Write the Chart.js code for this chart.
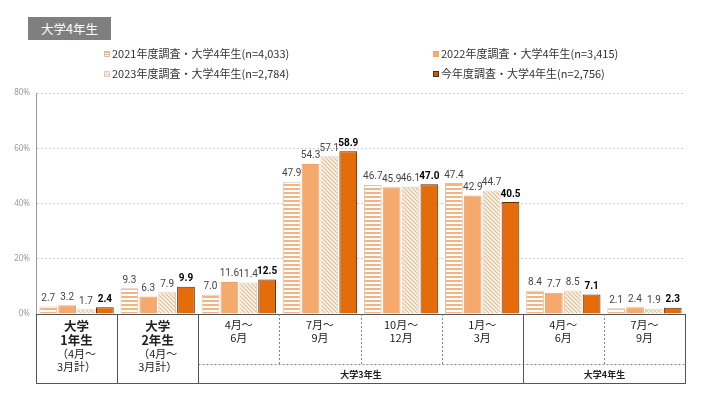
<!DOCTYPE html>
<html><head><meta charset="utf-8">
<script src="https://cdn.jsdelivr.net/npm/chart.js@4"></script>
<style>
html,body{margin:0;padding:0;background:#fff;}
#wrap{position:relative;width:704px;height:396px;overflow:hidden;font-family:"Noto Sans CJK JP","Noto Sans",sans-serif;}
#c{position:absolute;left:0;top:0;}
#title{position:absolute;left:28px;top:17px;width:83px;height:23px;background:#7f7f7f;color:#fff;font-size:12.5px;line-height:23px;text-align:center;}
.lg{position:absolute;font-size:11px;color:#333;line-height:14px;white-space:nowrap;}
.mk{display:inline-block;width:6px;height:6px;margin-right:2px;vertical-align:1px;box-sizing:border-box;}
</style></head>
<body><div id="wrap"><canvas id="c" width="704" height="396"></canvas>
<div id="title">大学4年生</div>
<div id="legend"></div>
</div>
<script>
// ---- data ----
const categories = ['大学1年生','大学2年生','大学3年生 4月～6月','大学3年生 7月～9月','大学3年生 10月～12月','大学3年生 1月～3月','大学4年生 4月～6月','大学4年生 7月～9月'];
const categoryLines = [['大学','1年生','（4月～','3月計）'],['大学','2年生','（4月～','3月計）'],['4月～','6月'],['7月～','9月'],['10月～','12月'],['1月～','3月'],['4月～','6月'],['7月～','9月']];
const groupLabels = ['大学3年生','大学4年生'];
const groupRanges = [[2,5],[6,7]];
const seriesNames = ['2021年度調査・大学4年生(n=4,033)','2022年度調査・大学4年生(n=3,415)','2023年度調査・大学4年生(n=2,784)','今年度調査・大学4年生(n=2,756)'];
const values2021 = [2.7, 9.3, 7.0, 47.9, 46.7, 47.4, 8.4, 2.1];
const values2022 = [3.2, 6.3, 11.6, 54.3, 45.9, 42.9, 7.7, 2.4];
const values2023 = [1.7, 7.9, 11.4, 57.1, 46.1, 44.7, 8.5, 1.9];
const valuesNow  = [2.4, 9.9, 12.5, 58.9, 47.0, 40.5, 7.1, 2.3];
const yTicks = [0, 20, 40, 60, 80];

// ---- patterns ----
function stripePattern(){
  const c=document.createElement('canvas');c.width=4;c.height=4;const x=c.getContext('2d');
  x.fillStyle='#fff';x.fillRect(0,0,4,4);x.fillStyle='#f5b382';x.fillRect(0,0,4,2);
  return x.createPattern(c,'repeat');
}
function hatchPattern(){
  const c=document.createElement('canvas');c.width=4;c.height=4;const x=c.getContext('2d');
  x.fillStyle='#fff';x.fillRect(0,0,4,4);x.strokeStyle='#f5bb8e';x.lineWidth=1.4;
  x.beginPath();x.moveTo(-1,-1);x.lineTo(5,5);x.moveTo(-1,3);x.lineTo(1,5);x.moveTo(3,-1);x.lineTo(5,1);x.stroke();
  return x.createPattern(c,'repeat');
}
const ctx=document.getElementById('c').getContext('2d');
const fills=[stripePattern(),'#f5a96c',hatchPattern(),'#e46c0a'];
const borders=['#d9bfa8','#eda36a','#dccbbd','#5a2c08'];
const allValues=[values2021,values2022,values2023,valuesNow];

// ---- legend (HTML) ----
const legendPos=[[104,46],[433,46],[104,66],[433,66]];
const mkCss=[
 'background:repeating-linear-gradient(0deg,#fff 0 1px,#f3b88c 1px 2px);border:1px solid #d9bfa8;',
 'background:#f5a96c;',
 'background:repeating-linear-gradient(45deg,#fff 0 1px,#f5bb8e 1px 2px);border:1px solid #dccbbd;',
 'background:#c55a11;border:1px solid #5a2c08;'];
const lg=document.getElementById('legend');
seriesNames.forEach((n,i)=>{const d=document.createElement('div');d.className='lg';d.style.left=legendPos[i][0]+'px';d.style.top=legendPos[i][1]+'px';
 d.innerHTML='<span class="mk" style="'+mkCss[i]+'"></span>'+n;lg.appendChild(d);});

// ---- plugins ----
const valueLabels={id:'valueLabels',afterDatasetsDraw(chart){
  const c=chart.ctx;c.save();c.textAlign='center';c.textBaseline='bottom';
  chart.data.datasets.forEach((ds,di)=>{const meta=chart.getDatasetMeta(di);
    c.font=(di===3?'bold ':'')+'10px "Roboto","Noto Sans",sans-serif';c.fillStyle=di===3?'#000':'#444';
    meta.data.forEach((el,i)=>{c.fillText(ds.data[i].toFixed(1),el.x,el.y-3);});});
  c.restore();}};
const tablePlugin={id:'table',afterDraw(chart){
  const c=chart.ctx,x=chart.scales.x,a=chart.chartArea;const n=categories.length;const w=(a.right-a.left)/n;
  const top=a.bottom,mid=a.bottom+50,bot=a.bottom+69;
  const edge=i=>Math.round(a.left+w*i)+0.5;
  c.save();
  const line=(x1,y1,x2,y2,dash,col)=>{c.beginPath();c.setLineDash(dash?[2,2]:[]);c.strokeStyle=col;c.lineWidth=1;c.moveTo(x1,y1);c.lineTo(x2,y2);c.stroke();};
  line(edge(0),top+0.5,edge(n),top+0.5,false,'#555');
  line(edge(0),bot+0.5,edge(n),bot+0.5,false,'#555');
  line(edge(2),mid+0.5,edge(n),mid+0.5,true,'#888');
  [0,1,2,6,8].forEach(i=>line(edge(i),top,edge(i),bot+1,false,'#555'));
  [3,4,5,7].forEach(i=>line(edge(i),top,edge(i),mid,true,'#888'));
  c.setLineDash([]);c.textAlign='center';c.textBaseline='middle';c.fillStyle='#222';
  categoryLines.forEach((ls,i)=>{const cx=x.getPixelForValue(i);
    if(ls.length===4){c.font='bold 12.5px "Noto Sans CJK JP"';c.fillText(ls[0],cx,top+12);c.fillText(ls[1],cx,top+26);
      c.font='11px "Noto Sans CJK JP"';c.fillText(ls[2],cx,top+40);c.fillText(ls[3],cx,top+53);}
    else{c.font='11px "Noto Sans CJK JP"';c.fillText(ls[0],cx,top+11);c.fillText(ls[1],cx,top+24);}});
  c.font='bold 9px "Noto Sans CJK JP"';
  groupLabels.forEach((g,gi)=>{const r=groupRanges[gi];const cx=(edge(r[0])+edge(r[1]+1))/2;c.fillText(g,cx,(mid+bot)/2+1);});
  c.restore();}};

new Chart(ctx,{type:'bar',
 data:{labels:categories,datasets:allValues.map((v,i)=>({label:seriesNames[i],data:v,backgroundColor:fills[i],borderColor:borders[i],borderWidth:1,categoryPercentage:0.93,barPercentage:0.94}))},
 options:{responsive:false,devicePixelRatio:1,animation:false,
  layout:{padding:{left:0,right:19,top:93,bottom:82}},
  plugins:{legend:{display:false},tooltip:{enabled:false}},
  scales:{
   x:{display:false},
   y:{min:0,max:80,afterBuildTicks(s){s.ticks=yTicks.map(v=>({value:v}));},afterFit(s){s.width=36;},
      ticks:{callback:v=>v+'%',color:'#9a9a9a',font:{size:8,family:'"Noto Sans",sans-serif'},padding:6},
      grid:{color:'#cfcfcf',drawTicks:false},border:{display:true,color:'#9a9a9a',dash:[2,2]}}
  }},
 plugins:[valueLabels,tablePlugin]});
</script></body></html>
